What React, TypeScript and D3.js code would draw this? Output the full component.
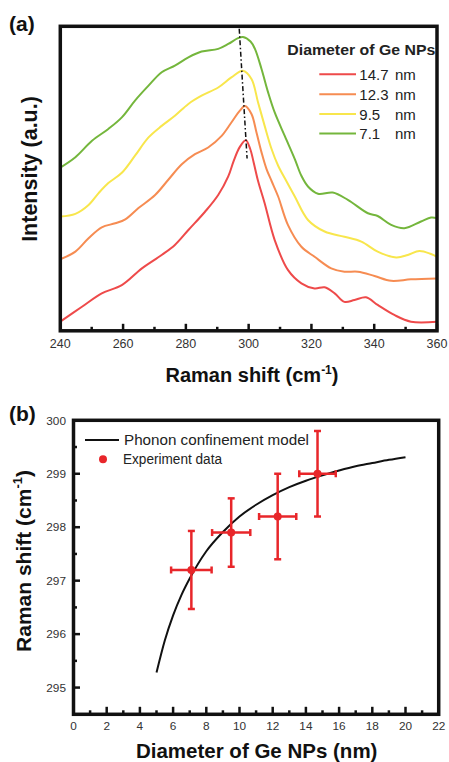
import React from "react";
import * as d3 from "d3";

// ---------- Panel (a): Raman spectra ----------
const spectrumLabels = ["14.7", "12.3", "9.5", "7.1"];
const spectrumColors = ["#ee4a4a", "#f68c52", "#f8e64c", "#74b63c"];

const spec147: [number, number][] = [
  [240, 3.0], [246.9, 7.9], [253.2, 12.3], [259.6, 15.0], [266.0, 20.5], [272.3, 24.9],
  [276.5, 28.2], [280.8, 33.1], [286.1, 39.1], [290.3, 44.6], [293.5, 50.7], [295.3, 56.0],
  [297.2, 60.4], [299.1, 62.6], [300.5, 59.7], [301.6, 55.3], [303.0, 49.2], [305.1, 41.9],
  [308.3, 29.8], [312.5, 20.0], [316.8, 15.6], [321.0, 13.9], [324.2, 14.3], [327.4, 12.3],
  [330.5, 9.5], [333.7, 10.1], [337.4, 11.0], [341.1, 8.5], [346.4, 5.2], [351.7, 3.0], [360, 3.0],
];
const spec123: [number, number][] = [
  [240, 23.5], [244.8, 26.0], [249.0, 30.4], [253.2, 34.0], [257.5, 35.3], [260.7, 36.6],
  [264.9, 40.3], [270.2, 44.6], [274.4, 49.6], [278.7, 54.7], [282.9, 58.0], [287.1, 60.2],
  [291.4, 64.0], [294.5, 68.4], [297.2, 72.3], [298.8, 73.8], [300.9, 71.2], [302.5, 65.1],
  [304.1, 58.6], [305.7, 53.1], [307.3, 49.2], [309.4, 44.1], [312.5, 34.8], [316.8, 27.6],
  [321.0, 24.3], [326.3, 20.5], [330.5, 19.4], [334.8, 19.4], [340.1, 18.0], [345.4, 16.4],
  [351.7, 16.9], [360, 17.2],
];
const spec95: [number, number][] = [
  [240, 37.5], [244.8, 38.4], [249.0, 41.3], [252.2, 45.2], [255.3, 48.5], [259.6, 51.9],
  [263.8, 57.5], [268.1, 63.5], [272.3, 67.3], [276.5, 70.6], [280.8, 74.5], [285.0, 77.2],
  [290.3, 79.9], [294.5, 83.2], [298.2, 85.4], [300.9, 82.7], [303.0, 75.0], [305.1, 67.3],
  [307.3, 59.7], [309.4, 54.2], [312.0, 49.2], [314.7, 44.1], [318.9, 36.4], [324.2, 32.6],
  [330.5, 30.9], [335.9, 29.3], [341.1, 26.0], [347.0, 24.1], [350.7, 24.9], [354.4, 26.2],
  [358.1, 25.2], [360, 24.3],
];
const spec71: [number, number][] = [
  [240, 53.6], [244.8, 57.0], [250.1, 62.4], [255.3, 66.3], [259.6, 70.1], [263.8, 75.6],
  [268.1, 80.5], [272.3, 84.9], [276.5, 87.1], [280.8, 89.8], [285.0, 91.7], [290.3, 92.6],
  [293.5, 94.2], [296.6, 96.1], [298.2, 96.5], [300.6, 95.0], [302.0, 92.6], [304.1, 86.0],
  [306.2, 78.3], [308.3, 71.7], [311.5, 64.0], [314.7, 56.4], [316.8, 50.9], [318.9, 47.4],
  [322.1, 45.0], [326.8, 45.4], [331.6, 43.0], [338.0, 38.6], [341.1, 37.7], [345.4, 34.8],
  [349.6, 33.7], [354.9, 35.9], [358.1, 37.2], [360, 37.0],
];
const spectra = [spec147, spec123, spec95, spec71];
const peakGuide: [number, number][] = [[297.0, 99.2], [299.5, 56.6]];
const ramanTicks = [240, 260, 280, 300, 320, 340, 360];
const ramanMinorTicks = [250, 270, 290, 310, 330, 350];

// ---------- Panel (b): size dependence ----------
const modelDiameter = [5, 5.5, 6, 6.5, 7, 8, 9, 10, 11, 12, 13, 14, 15, 16, 17, 18, 19, 20];
const modelShift = [295.28, 295.88, 296.35, 296.73, 297.04, 297.55, 297.91, 298.2, 298.42, 298.6,
  298.75, 298.87, 298.97, 299.06, 299.14, 299.2, 299.26, 299.31];
const expDiameter = [7.1, 9.5, 12.3, 14.7];
const expShift = [297.2, 297.9, 298.2, 299.0];
const expDiameterErr = [1.22, 1.15, 1.12, 1.1];
const expShiftErr = [0.73, 0.64, 0.8, 0.8];
const diamTicks = [0, 2, 4, 6, 8, 10, 12, 14, 16, 18, 20, 22];
const diamMinorTicks = [1, 3, 5, 7, 9, 11, 13, 15, 17, 19, 21];
const shiftTicks = [295, 296, 297, 298, 299, 300];
const shiftMinorTicks = [294.5, 295.5, 296.5, 297.5, 298.5, 299.5];

const FONT = "'Liberation Sans', Arial, Helvetica, sans-serif";

export default function App() {
  // scales panel a
  const xA = d3.scaleLinear().domain([240, 360]).range([60.3, 437]);
  const yA = d3.scaleLinear().domain([0, 100]).range([330.8, 26.3]);
  const lineA = d3
    .line<[number, number]>()
    .x((d) => xA(d[0]))
    .y((d) => yA(d[1]))
    .curve(d3.curveCatmullRom.alpha(0.5));

  // scales panel b
  const xB = d3.scaleLinear().domain([0, 22]).range([73.5, 438.7]);
  const yB = d3.scaleLinear().domain([294.5, 300]).range([714.3, 420.3]);
  const modelPts: [number, number][] = modelDiameter.map((d, i) => [d, modelShift[i]]);
  const lineB = d3
    .line<[number, number]>()
    .x((d) => xB(d[0]))
    .y((d) => yB(d[1]))
    .curve(d3.curveMonotoneX);

  const red = "#e8262a";
  const legendRows = [74.3, 94.3, 114, 133.5];

  return (
    <svg
      width={449}
      height={762}
      style={{ position: "absolute", left: 0, top: 0, display: "block", background: "#fff" }}
      fontFamily={FONT}
    >
      <rect x={0} y={0} width={449} height={762} fill="#fff" />
      {/* ===== Panel (a) ===== */}
      <text x={9} y={31} fontSize={21} fontWeight="bold" fill="#111">(a)</text>

      {spectra.map((s, i) => (
        <path key={i} d={lineA(s) || ""} fill="none" stroke={spectrumColors[i]} strokeWidth={2} />
      ))}
      <path
        d={d3.line()(peakGuide.map((p) => [xA(p[0]), yA(p[1])]) as [number, number][]) || ""}
        fill="none"
        stroke="#111"
        strokeWidth={1.5}
        strokeDasharray="5,2.5,1.5,2.5"
      />

      {/* ticks a */}
      {ramanTicks.map((t) => (
        <line key={"ma" + t} x1={xA(t)} x2={xA(t)} y1={yA.range()[0]} y2={yA.range()[0] - 7} stroke="#111" strokeWidth={2.5} />
      ))}
      {ramanMinorTicks.map((t) => (
        <line key={"mi" + t} x1={xA(t)} x2={xA(t)} y1={yA.range()[0]} y2={yA.range()[0] - 4} stroke="#111" strokeWidth={2.5} />
      ))}
      {ramanTicks.map((t) => (
        <text key={"la" + t} x={xA(t)} y={348.3} fontSize={12.5} textAnchor="middle" fill="#333">{t}</text>
      ))}
      <rect x={60.3} y={26.3} width={437 - 60.3} height={330.8 - 26.3} fill="none" stroke="#111" strokeWidth={3.5} />

      {/* legend a */}
      <text x={287.3} y={55} fontSize={14.5} fontWeight="bold" fill="#222" textLength={148} lengthAdjust="spacingAndGlyphs">
        Diameter of Ge NPs
      </text>
      {spectrumLabels.map((lab, i) => (
        <g key={"lg" + i}>
          <line x1={319.3} x2={356} y1={legendRows[i]} y2={legendRows[i]} stroke={spectrumColors[i]} strokeWidth={2} />
          <text x={359.3} y={legendRows[i] + 5.5} fontSize={15} fill="#222">{lab}</text>
          <text x={395} y={legendRows[i] + 5.5} fontSize={15} fill="#222">nm</text>
        </g>
      ))}

      {/* axis labels a */}
      <text x={252} y={381.5} fontSize={20} fontWeight="bold" textAnchor="middle" fill="#111">
        Raman shift <tspan>(cm</tspan>
        <tspan fontSize={12} dy={-8}>-1</tspan>
        <tspan dy={8}>)</tspan>
      </text>
      <text
        transform={`translate(37.3,169) rotate(-90)`}
        fontSize={21.5}
        fontWeight="bold"
        textAnchor="middle"
        fill="#111"
      >
        Intensity (a.u.)
      </text>

      {/* ===== Panel (b) ===== */}
      <text x={9} y={421} fontSize={21} fontWeight="bold" fill="#111">(b)</text>

      <path d={lineB(modelPts) || ""} fill="none" stroke="#111" strokeWidth={2} />

      {expDiameter.map((d, i) => {
        const cx = xB(d);
        const cy = yB(expShift[i]);
        const yt = yB(expShift[i] + expShiftErr[i]);
        const yb = yB(expShift[i] - expShiftErr[i]);
        const xl = xB(d - expDiameterErr[i]);
        const xr = xB(d + expDiameterErr[i]);
        return (
          <g key={"e" + i} stroke={red} strokeWidth={2.5}>
            <line x1={cx} x2={cx} y1={yt} y2={yb} />
            <line x1={cx - 3.5} x2={cx + 3.5} y1={yt} y2={yt} />
            <line x1={cx - 3.5} x2={cx + 3.5} y1={yb} y2={yb} />
            <line x1={xl} x2={xr} y1={cy} y2={cy} />
            <line x1={xl} x2={xl} y1={cy - 3.5} y2={cy + 3.5} />
            <line x1={xr} x2={xr} y1={cy - 3.5} y2={cy + 3.5} />
            <circle cx={cx} cy={cy} r={4} fill={red} stroke="none" />
          </g>
        );
      })}

      {/* ticks b */}
      {diamTicks.map((t) => (
        <line key={"bx" + t} x1={xB(t)} x2={xB(t)} y1={714.3} y2={714.3 - 7.5} stroke="#111" strokeWidth={2.5} />
      ))}
      {diamMinorTicks.map((t) => (
        <line key={"bxm" + t} x1={xB(t)} x2={xB(t)} y1={714.3} y2={714.3 - 4} stroke="#111" strokeWidth={2.5} />
      ))}
      {shiftTicks.map((t) => (
        <line key={"by" + t} x1={73.5} x2={73.5 + 6.5} y1={yB(t)} y2={yB(t)} stroke="#111" strokeWidth={2.5} />
      ))}
      {shiftMinorTicks.map((t) => (
        <line key={"bym" + t} x1={73.5} x2={73.5 + 3.5} y1={yB(t)} y2={yB(t)} stroke="#111" strokeWidth={2.5} />
      ))}
      {diamTicks.map((t) => (
        <text key={"bxl" + t} x={xB(t)} y={730} fontSize={11.8} textAnchor="middle" fill="#333">{t}</text>
      ))}
      {shiftTicks.map((t) => (
        <text key={"byl" + t} x={66} y={yB(t) + 4.2} fontSize={11.8} textAnchor="end" fill="#333">{t}</text>
      ))}
      <rect x={73.5} y={420.3} width={438.7 - 73.5} height={714.3 - 420.3} fill="none" stroke="#111" strokeWidth={3.5} />

      {/* legend b */}
      <line x1={85} x2={119} y1={440} y2={440} stroke="#111" strokeWidth={2} />
      <text x={124} y={445} fontSize={14.5} fill="#222" textLength={185} lengthAdjust="spacingAndGlyphs">
        Phonon confinement model
      </text>
      <circle cx={103} cy={459.3} r={4} fill={red} />
      <text x={123} y={464} fontSize={14} fill="#222" textLength={99} lengthAdjust="spacingAndGlyphs">
        Experiment data
      </text>

      {/* axis labels b */}
      <text x={256.7} y={758} fontSize={20.5} fontWeight="bold" textAnchor="middle" fill="#111">
        Diameter of Ge NPs (nm)
      </text>
      <text
        transform={`translate(30.5,561) rotate(-90)`}
        fontSize={21}
        fontWeight="bold"
        textAnchor="middle"
        fill="#111"
      >
        Raman shift (cm
        <tspan fontSize={13} dy={-9}>-1</tspan>
        <tspan dy={9}>)</tspan>
      </text>
    </svg>
  );
}
